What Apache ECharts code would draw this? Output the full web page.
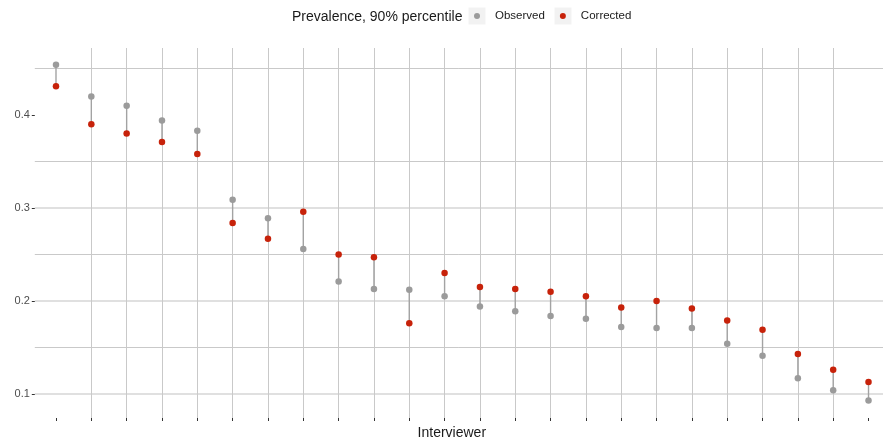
<!DOCTYPE html>
<html>
<head>
<meta charset="utf-8">
<script src="https://cdn.jsdelivr.net/npm/echarts@6/dist/echarts.min.js"></script>
<style>
  html, body { margin: 0; padding: 0; background: #ffffff; }
  #chart { width: 883px; height: 438px; }
</style>
</head>
<body>
<div id="chart"></div>
<script>
// Interviewer index (x position) and prevalence at the 90% percentile
const interviewerIds = [1, 2, 3, 4, 5, 6, 7, 8, 9, 10, 11, 12, 13, 14, 15, 16, 17, 18, 19, 20, 21, 22, 23, 24];
const observed = [0.454, 0.420, 0.410, 0.394, 0.383, 0.309, 0.289, 0.256, 0.221, 0.213, 0.212, 0.205,
                  0.194, 0.189, 0.184, 0.181, 0.172, 0.171, 0.171, 0.154, 0.141, 0.117, 0.104, 0.093];
const corrected = [0.431, 0.390, 0.380, 0.371, 0.358, 0.284, 0.267, 0.296, 0.250, 0.247, 0.176, 0.230,
                   0.215, 0.213, 0.210, 0.205, 0.193, 0.200, 0.192, 0.179, 0.169, 0.143, 0.126, 0.113];
const yTickValues = [0.1, 0.2, 0.3, 0.4];
const legendTitle = 'Prevalence, 90% percentile';
const seriesNames = ['Observed', 'Corrected'];

const FONT = 'Liberation Sans, Arial, Helvetica, sans-serif';
const GREY = '#9b9b9b';
const RED = '#c7220a';

const chart = echarts.init(document.getElementById('chart'), null, { renderer: 'canvas' });

const obsData = interviewerIds.map((id, i) => [id, observed[i]]);
const corData = interviewerIds.map((id, i) => [id, corrected[i]]);
const segData = interviewerIds.map((id, i) => [id, observed[i], corrected[i]]);

chart.setOption({
  animation: false,
  backgroundColor: '#ffffff',
  textStyle: { fontFamily: FONT },
  title: {
    text: legendTitle,
    left: 292, top: 10, padding: 0,
    textStyle: { fontFamily: FONT, fontSize: 14, fontWeight: 'normal', color: '#1a1a1a' }
  },
  legend: {
    data: seriesNames,
    left: 474, top: 10, padding: 0,
    icon: 'circle',
    itemWidth: 6, itemHeight: 6, itemGap: 15,
    textStyle: { fontFamily: FONT, fontSize: 11.5, color: '#1a1a1a', padding: [0, 0, 0, 10] }
  },
  graphic: [
    { type: 'rect', z: -1, shape: { x: 468.5, y: 7.5, width: 17, height: 17 }, style: { fill: '#f2f2f2' } },
    { type: 'rect', z: -1, shape: { x: 554.5, y: 7.5, width: 17, height: 17 }, style: { fill: '#f2f2f2' } }
  ],
  grid: [
    // data panel: interviewer slots from 0 up to the right edge of the page
    { left: 20.67, right: 0, top: 48, bottom: 20, outerBoundsMode: 'none', containLabel: false },
    // horizontal guide lines and y labels, scale 0.1..0.5
    { left: 34.8, right: 0, top: 22, bottom: 44, outerBoundsMode: 'none', containLabel: false }
  ],
  xAxis: [
    {
      gridIndex: 0, type: 'value', min: 0, max: 24.41, interval: 1,
      name: 'Interviewer', nameLocation: 'middle', nameGap: 8,
      nameTextStyle: { fontFamily: FONT, fontSize: 14, color: '#1a1a1a', verticalAlign: 'top' },
      axisLine: { show: false },
      axisLabel: { show: false },
      axisTick: { show: true, length: 3, customValues: interviewerIds, lineStyle: { color: '#333333', width: 1 } },
      splitLine: { show: true, showMinLine: false, showMaxLine: false, lineStyle: { color: '#c9c9c9', width: 1 } }
    },
    { gridIndex: 1, type: 'value', min: 0, max: 1, show: false }
  ],
  yAxis: [
    { gridIndex: 0, type: 'value', min: 0.07419, max: 0.47204, show: false },
    {
      gridIndex: 1, type: 'value', min: 0.1, max: 0.5, interval: 0.1,
      axisLine: { show: false },
      axisTick: { show: true, length: 3, customValues: yTickValues, lineStyle: { color: '#333333', width: 1 } },
      axisLabel: {
        customValues: yTickValues, margin: 5,
        fontFamily: FONT, fontSize: 11, color: '#4d4d4d',
        formatter: v => v.toFixed(1)
      },
      splitLine: { show: true, showMinLine: true, showMaxLine: false, lineStyle: { color: '#d6d6d6', width: 1.5 } },
      minorTick: { show: false, splitNumber: 2 },
      minorSplitLine: { show: true, lineStyle: { color: '#c9c9c9', width: 1 } }
    }
  ],
  series: [
    {
      type: 'custom', xAxisIndex: 0, yAxisIndex: 0, silent: true,
      data: segData,
      encode: { x: 0, y: [1, 2] },
      renderItem: (params, api) => {
        const a = api.coord([api.value(0), api.value(1)]);
        const b = api.coord([api.value(0), api.value(2)]);
        return {
          type: 'line',
          shape: { x1: a[0], y1: a[1], x2: b[0], y2: b[1] },
          style: { stroke: '#a3a3a3', lineWidth: 1.4 }
        };
      },
      z: 2
    },
    {
      name: seriesNames[0], type: 'scatter', xAxisIndex: 0, yAxisIndex: 0,
      data: obsData, symbol: 'circle', symbolSize: 6.5,
      itemStyle: { color: GREY, opacity: 1 }, z: 3
    },
    {
      name: seriesNames[1], type: 'scatter', xAxisIndex: 0, yAxisIndex: 0,
      data: corData, symbol: 'circle', symbolSize: 6.5,
      itemStyle: { color: RED, opacity: 1 }, z: 4
    }
  ]
});
</script>
</body>
</html>
